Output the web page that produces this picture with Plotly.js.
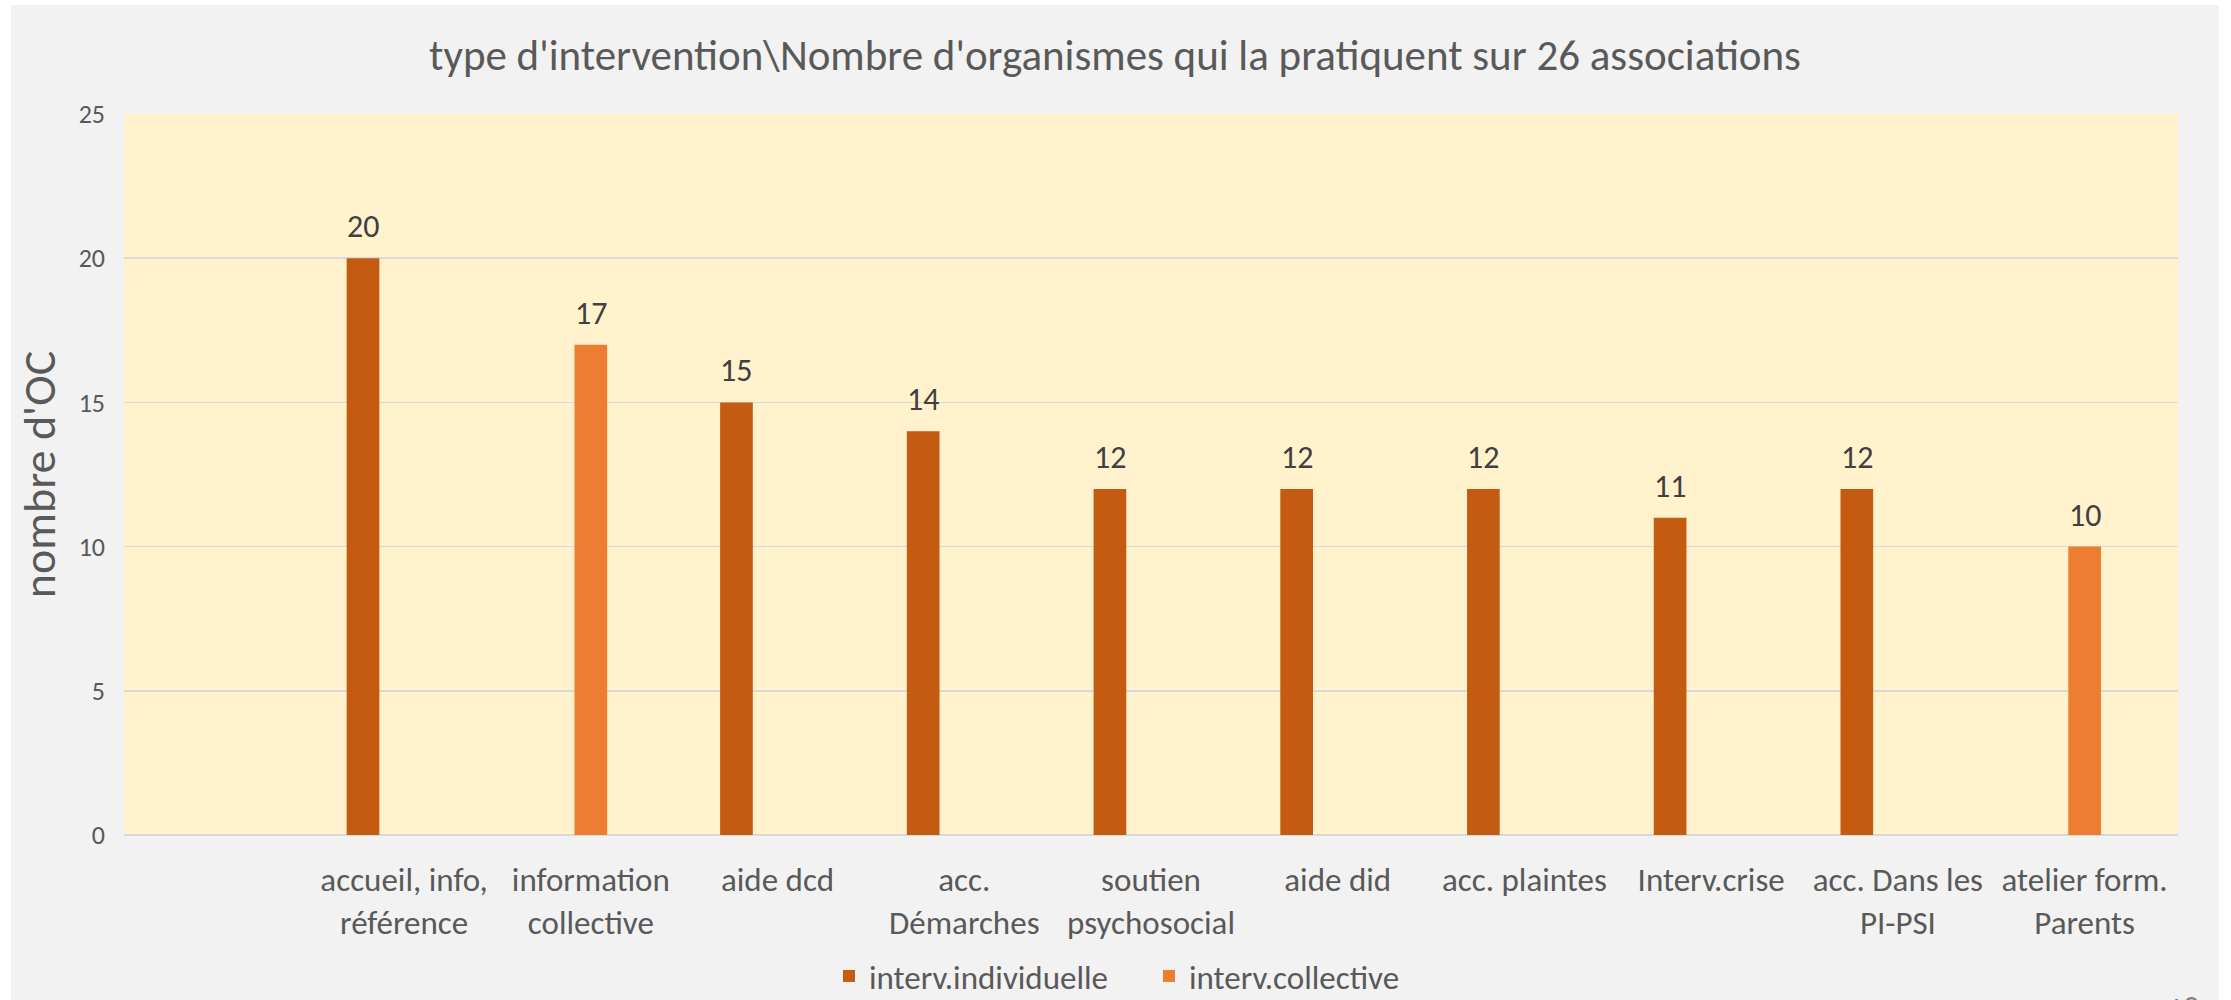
<!DOCTYPE html>
<html>
<head>
<meta charset="utf-8">
<script src="https://cdn.plot.ly/plotly-3.0.1.min.js"></script>
<style>
  html, body { margin: 0; padding: 0; background: #ffffff; }
  #chart { position: absolute; left: 11px; top: 5px; width: 2208px; height: 995px; }
</style>
</head>
<body>
<div id="chart"></div>
<script>
const categories = [
  "accueil, info,<br>référence",
  "information<br>collective",
  "aide dcd",
  "acc.<br>Démarches",
  "soutien<br>psychosocial",
  "aide did",
  "acc. plaintes",
  "Interv.crise",
  "acc. Dans les<br>PI-PSI",
  "atelier form.<br>Parents"
];
const individuelle = [20, null, 15, 14, 12, 12, 12, 11, 12, null];
const collective = [null, 17, null, null, null, null, null, null, null, 10];
const seriesNames = ["interv.individuelle", "interv.collective"];
const yTicks = [0, 5, 10, 15, 20, 25];

const FONT = "Carlito, Calibri, Lato, sans-serif";
const BAR_W = 0.175;
const IND_CENTER = -0.22;

const traces = [
  {
    type: "bar", name: seriesNames[0], x: categories, y: individuelle,
    width: BAR_W, offset: IND_CENTER - BAR_W / 2,
    marker: { color: "#C55A11" }, hoverinfo: "x+y"
  },
  {
    type: "bar", name: seriesNames[1], x: categories, y: collective,
    width: BAR_W, offset: -BAR_W / 2,
    marker: { color: "#ED7D31" }, hoverinfo: "x+y"
  }
];

const annotations = [];
[[individuelle, IND_CENTER], [collective, 0]].forEach(([vals, dx]) => {
  vals.forEach((v, i) => {
    if (v === null) return;
    annotations.push({
      x: i + dx, y: v, xref: "x", yref: "y", text: String(v), showarrow: false,
      yanchor: "bottom", yshift: 10,
      font: { family: FONT, size: 32, color: "#404040" }
    });
  });
});
annotations.push({
  xref: "paper", yref: "paper", x: 1.0024, y: -0.212, xanchor: "center", yanchor: "top",
  text: "18", showarrow: false, font: { family: FONT, size: 32, color: "#7F7F7F" }
});

const layout = {
  width: 2208, height: 995,
  paper_bgcolor: "#F2F2F2", plot_bgcolor: "#FFF2CC",
  margin: { l: 113, r: 41, t: 109, b: 165 },
  barmode: "overlay",
  font: { family: FONT, color: "#595959" },
  title: {
    text: "type d'intervention\\Nombre d'organismes qui la pratiquent sur 26 associations",
    x: 0.5, xref: "container", xanchor: "center",
    y: 1 - 50 / 995, yref: "container", yanchor: "middle",
    font: { family: FONT, size: 43, color: "#595959" }
  },
  xaxis: {
    type: "category", range: [-1.5, 9.5], fixedrange: true,
    showgrid: false, zeroline: false, showline: false, ticks: "",
    ticklabelstandoff: 22,
    tickfont: { family: FONT, size: 33, color: "#595959" }
  },
  yaxis: {
    range: [0, 25], tickvals: yTicks, fixedrange: true,
    showgrid: true, gridcolor: "#D9D9D9", gridwidth: 1.5,
    zeroline: true, zerolinecolor: "#D9D9D9", zerolinewidth: 1.5,
    showline: false, ticks: "", ticklabelstandoff: 18,
    tickfont: { family: FONT, size: 26, color: "#595959" },
    title: { text: "nombre d'OC", standoff: 8, font: { family: FONT, size: 46, color: "#595959" } }
  },
  showlegend: true,
  legend: {
    orientation: "h", xref: "container", yref: "container",
    x: 818 / 2208, xanchor: "left", y: 1 - 971 / 995, yanchor: "middle",
    font: { family: FONT, size: 33, color: "#595959" },
    bgcolor: "rgba(0,0,0,0)", itemwidth: 30, traceorder: "normal",
    entrywidth: 275, entrywidthmode: "pixels",
    itemclick: false, itemdoubleclick: false
  },
  annotations: annotations
};

Plotly.newPlot("chart", traces, layout, { displayModeBar: false, staticPlot: true });
</script>
</body>
</html>
